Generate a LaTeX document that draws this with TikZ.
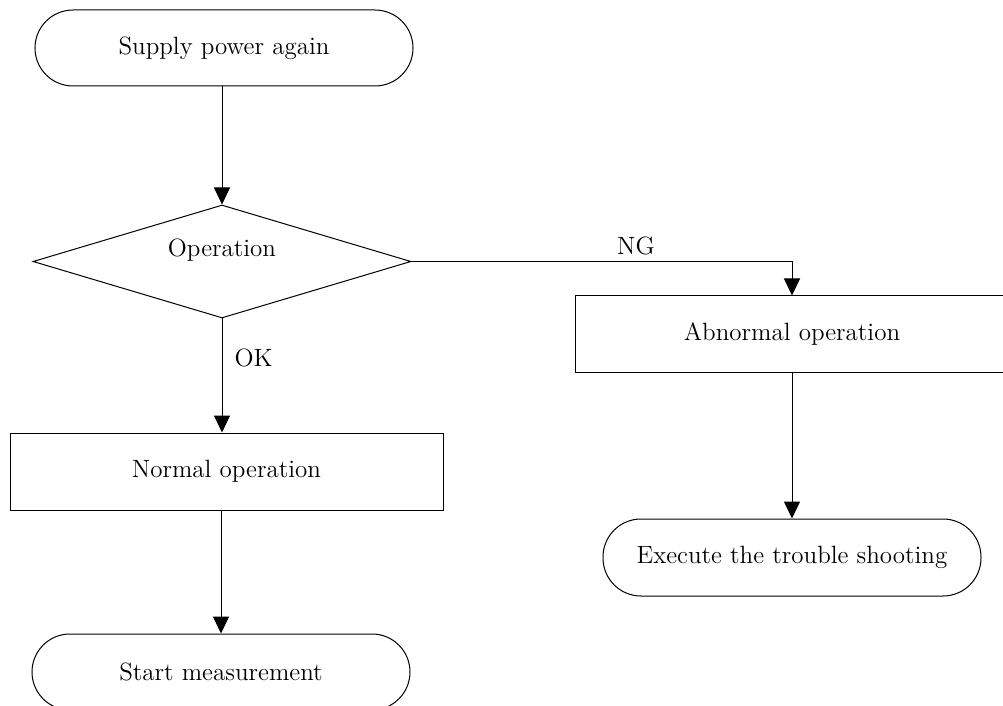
\documentclass[tikz,border=0pt]{standalone}
\usetikzlibrary{shapes.geometric,arrows.meta}
\begin{document}
\begin{tikzpicture}[x=0.5pt,y=-0.5pt,
  every node/.style={font=\fontsize{12.5}{15}\selectfont},
  term/.style={draw,line width=0.5pt,rectangle,rounded corners=19pt,minimum height=38pt,inner sep=0pt},
  proc/.style={draw,line width=0.5pt,rectangle,minimum height=38pt,inner sep=0pt},
  dec/.style={draw,line width=0.5pt,diamond,inner sep=0pt,minimum width=189pt,minimum height=56.5pt},
  arr/.style={line width=0.5pt,-{Triangle[length=8.5pt,width=8pt]}},
  lbl/.style={inner sep=0pt}]
\useasboundingbox (0,0) rectangle (1003,706);
\node[term,minimum width=189pt] (sup) at (224,48) {Supply power again};
\node[dec] (op) at (222,261.5) {};
\node[lbl] (optext) at (222,250) {Operation};
\node[proc,minimum width=217pt] (ab) at (792,334) {Abnormal operation};
\node[proc,minimum width=216.5pt,minimum height=38.5pt] (nor) at (226.5,471.5) {Normal operation};
\node[term,minimum width=189pt,minimum height=38.5pt] (ex) at (792,557.5) {Execute the trouble shooting};
\node[term,minimum width=189pt] (st) at (221,672) {Start measurement};
\draw[arr] (op.north |- sup.south) -- (op.north);
\draw[arr] (op.east) -- (op.east -| ab.north) node[pos=0.59,above=3pt,lbl] (ng) {NG} -- (ab.north);
\draw[arr] (op.south) -- (op.south |- nor.north) node[pos=0.35,right=6pt,lbl] (ok) {OK};
\draw[arr] (ab.south) -- (ex.north);
\draw[arr] (st.north |- nor.south) -- (st.north);
\end{tikzpicture}
\end{document}
